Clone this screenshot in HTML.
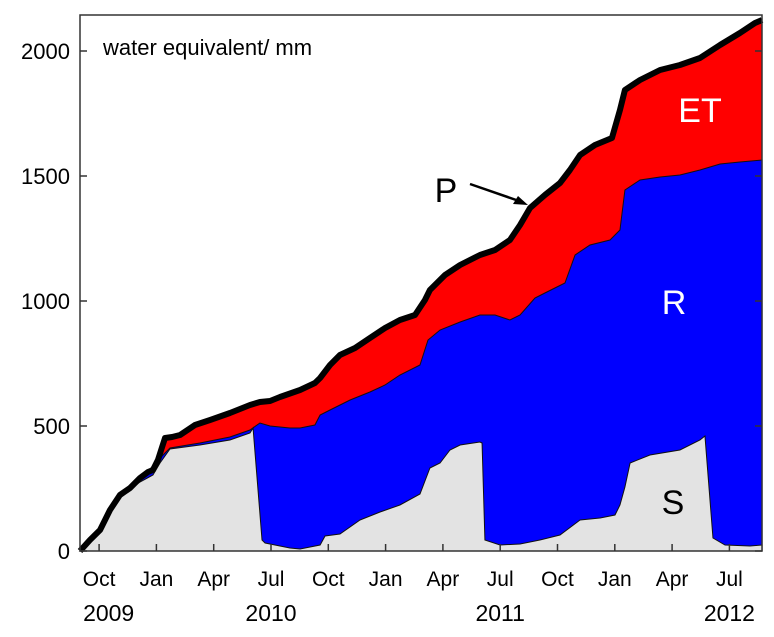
<!DOCTYPE html>
<html><head><meta charset="utf-8"><style>
body{margin:0;background:#fff;}
svg{display:block;font-family:"Liberation Sans",Arial,sans-serif;}
</style></head><body>
<svg id="chart" width="774" height="637"></svg>
<script>
// months since 1 Sep 2009
const pMonths=[0,0.52,1.05,1.57,2.09,2.62,3.14,3.56,3.82,4.08,4.45,4.82,5.24,6.02,6.81,7.85,8.90,9.42,9.95,10.47,11.52,12.30,12.57,13.09,13.61,14.40,15.18,15.97,16.75,17.54,18.06,18.32,19.11,19.90,20.94,21.73,22.51,23.04,23.56,24.34,25.13,25.65,26.18,26.96,27.85,28.27,28.53,29.32,30.37,31.41,32.46,33.51,34.55,35.34,35.71];
const pValues=[0,44,84,164,224,252,292,316,324,364,452,456,464,504,524,552,584,596,600,616,644,672,692,744,784,812,852,892,924,944,1004,1044,1104,1144,1184,1204,1244,1304,1372,1424,1472,1524,1584,1624,1652,1764,1844,1884,1924,1944,1972,2024,2072,2112,2124];
const sMonths=[0,1.05,2.09,3.14,3.82,4.19,4.71,6.28,7.85,8.90,9.06,9.53,9.69,10.99,11.52,12.57,12.83,13.61,14.66,15.71,16.75,17.80,18.32,18.85,19.37,19.90,20.94,21.05,21.20,21.99,23.04,24.08,25.13,26.18,27.23,28.01,28.27,28.53,28.80,29.84,31.41,32.46,32.72,33.14,33.77,35.08,35.71];
const sValues=[0,76,216,276,304,352,408,424,444,472,492,44,32,12,8,24,60,68,124,156,184,228,332,352,404,424,436,432,44,24,28,44,64,124,132,144,184,256,352,384,404,444,460,52,24,20,24];
const srMonths=[0,1.05,2.09,3.14,4.19,4.71,6.28,7.85,8.90,9.42,9.95,10.99,11.52,12.30,12.57,13.09,14.14,15.18,15.97,16.75,17.80,18.22,18.85,19.90,20.94,21.73,22.51,23.04,23.82,24.34,25.39,25.92,26.70,27.75,28.27,28.53,29.32,30.37,31.41,32.46,33.51,34.55,35.71];
const srValues=[0,84,224,284,372,412,432,456,484,512,500,492,492,504,544,564,604,636,664,704,744,844,884,916,944,944,924,944,1012,1032,1072,1184,1224,1244,1284,1444,1484,1496,1504,1524,1548,1556,1564];
const yTicks=[0,500,1000,1500,2000];
const monthTickPos=[1,4,7,10,13,16,19,22,25,28,31,34];
const monthTickLabels=["Oct","Jan","Apr","Jul","Oct","Jan","Apr","Jul","Oct","Jan","Apr","Jul"];
const yearLabels=["2009","2010","2011","2012"];
const yearPos=[1.5,10,22,34];

const L=80,R=762,T=15,B=551;
const X=m=>L+m*19.1;
const Y=v=>B-v*0.25;
const NS="http://www.w3.org/2000/svg";
const svg=document.getElementById('chart');
function mk(tag,attrs,parent){const e=document.createElementNS(NS,tag);for(const k in attrs)e.setAttribute(k,attrs[k]);(parent||svg).appendChild(e);return e;}
function area(ts,vs){let d=`M${X(ts[0])},${B}`;ts.forEach((t,i)=>d+=`L${X(t)},${Y(vs[i])}`);d+=`L${X(ts[ts.length-1])},${B}Z`;return d;}
function line(ts,vs){return ts.map((t,i)=>(i?'L':'M')+X(t)+','+Y(vs[i])).join('');}

let e;
e=mk('path',{d:area(pMonths,pValues),fill:'#ff0000'});


e=mk('path',{d:area(srMonths,srValues),fill:'#0000ff',stroke:'#111',"stroke-width":1});


e=mk('path',{d:area(sMonths,sValues),fill:'#e3e3e3',stroke:'#111',"stroke-width":1});


e=mk('path',{d:line(pMonths,pValues),fill:'none',stroke:'#000',"stroke-width":6,"stroke-linejoin":'round'});



e=mk('rect',{x:L,y:T,width:R-L,height:B-T,fill:'none',stroke:'#333',"stroke-width":1.5});



yTicks.forEach(v=>{
  let t=mk('line',{x1:L,x2:L+7,y1:Y(v),y2:Y(v),stroke:'#333',"stroke-width":1.5});
  
  
  t=mk('line',{x1:R-7,x2:R,y1:Y(v),y2:Y(v),stroke:'#333',"stroke-width":1.5});
  
  
  const lb=mk('text',{x:70,y:Y(v)+8,"text-anchor":'end',"font-size":22,fill:'#000'});
  lb.textContent=v;
  
  
});
monthTickPos.forEach((m,i)=>{
  const t=mk('line',{x1:X(m),x2:X(m),y1:B,y2:B-7,stroke:'#333',"stroke-width":1.5});
  
  
  const lb=mk('text',{x:X(m),y:586,"text-anchor":'middle',"font-size":21,fill:'#000'});
  lb.textContent=monthTickLabels[i];
  
  
});
yearLabels.forEach((y,i)=>{
  const lb=mk('text',{x:X(yearPos[i]),y:621,"text-anchor":'middle',"font-size":23,fill:'#000'});
  lb.textContent=y;
  
  
});
function label(txt,x,y,size,fill,name){const t=mk('text',{x:x,y:y,"font-size":size,fill:fill,"text-anchor":'middle'});t.textContent=txt;}
const u=mk('text',{x:103,y:55,"font-size":22,fill:'#000'});u.textContent='water equivalent/ mm';


label('ET',700,122,34,'#fff','et-label');
label('R',674,314,34,'#fff','r-label');
label('S',673,514,34,'#000','s-label');
label('P',446,202,34,'#000','p-label');
e=mk('line',{x1:470,y1:184,x2:522,y2:202,stroke:'#000',"stroke-width":2.5});


e=mk('path',{d:'M528,205 L513,204 L518,196 Z',fill:'#000'});


</script>
</body></html>
